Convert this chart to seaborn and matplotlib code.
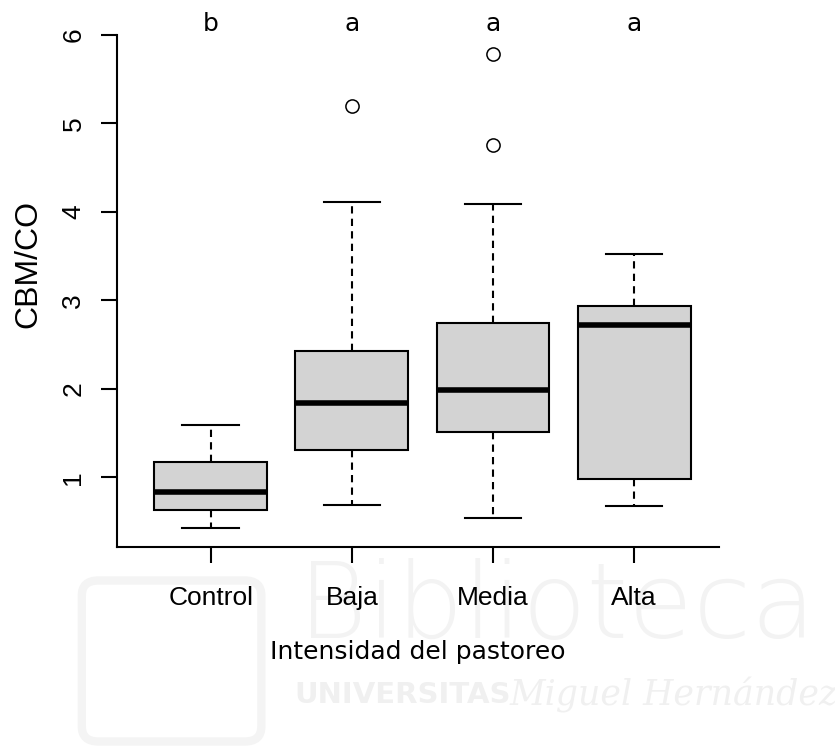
import matplotlib
matplotlib.use('Agg')
import matplotlib.pyplot as plt
from matplotlib.patches import FancyBboxPatch
import pandas as pd
import seaborn as sns

# Grupos (intensidad del pastoreo) y letras de significancia
grupos = ['Control', 'Baja', 'Media', 'Alta']
letras = ['b', 'a', 'a', 'a']

# Observaciones CBM/CO estimadas a partir de la figura
control = [0.430, 0.52, 0.636, 0.75, 0.835, 1.02, 1.174, 1.38, 1.594]
baja = [0.692, 1.05, 1.312, 1.60, 1.839, 2.10, 2.428, 4.112, 5.202]
media = [0.542, 1.10, 1.35, 1.512, 1.70, 1.85, 1.985, 2.30, 2.55, 2.747, 4.094, 4.762, 5.785]
alta = [0.673, 0.85, 0.982, 1.90, 2.725, 2.80, 2.936, 3.20, 3.519]

y_ticks = [1, 2, 3, 4, 5, 6]

# Build long table for seaborn
valores = [control, baja, media, alta]
df = pd.DataFrame({
    'grupo': [g for g, v in zip(grupos, valores) for _ in v],
    'valor': [x for v in valores for x in v],
})

fig = plt.figure(figsize=(8.35, 7.49), dpi=100)

# faint library watermark behind the chart
fig.patches.append(FancyBboxPatch((0.098, 0.01), 0.215, 0.215, boxstyle='round,pad=0,rounding_size=0.02',
                                  transform=fig.transFigure, fill=False, edgecolor='#F4F4F4',
                                  linewidth=6, zorder=-5))
fig.text(0.357, 0.148, 'Biblioteca', fontsize=76, color='#F3F3F3', family='DejaVu Sans',
         fontweight='light', ha='left', va='baseline', zorder=-4)
fig.text(0.352, 0.072, 'UNIVERSITAS', fontsize=21, color='#F0F0F0', family='DejaVu Sans',
         fontweight='bold', ha='left', va='center', zorder=-4)
fig.text(0.61, 0.072, 'Miguel Hernández', fontsize=25, color='#F0F0F0', family='DejaVu Serif',
         style='italic', ha='left', va='center', zorder=-4)

ax = fig.add_axes([0.1398, 0.2701, 0.7213, 0.6832])
ax.patch.set_alpha(0)

sns.boxplot(data=df, x='grupo', y='valor', order=grupos, width=0.8, whis=1.6,
            color='#D3D3D3', saturation=1, linecolor='black', linewidth=1.5,
            medianprops=dict(color='black', linewidth=4),
            whiskerprops=dict(linestyle=(0, (3.5, 2.5))),
            flierprops=dict(marker='o', markerfacecolor='none', markeredgecolor='black',
                            markersize=9.5, markeredgewidth=1.1),
            ax=ax)

ax.set_xlim(-0.666, 3.602)
ax.set_ylim(0.216, 6.0)

for side in ['top', 'right']:
    ax.spines[side].set_visible(False)
for side in ['left', 'bottom']:
    ax.spines[side].set_linewidth(1.5)

ax.set_yticks(y_ticks)
ax.set_yticklabels([str(t) for t in y_ticks], rotation=90, va='center',
                   family='Liberation Sans', fontsize=19)
ax.set_xticks(range(len(grupos)))
ax.set_xticklabels(grupos, family='Liberation Sans', fontsize=19)
ax.tick_params(axis='y', length=11.5, width=1.5, pad=11)
ax.tick_params(axis='x', length=11.5, width=1.5, pad=17)

ax.set_ylabel('CBM/CO', family='Liberation Sans', fontsize=23)
ax.yaxis.set_label_coords(-0.1217, 0.5525)
ax.set_xlabel('Intensidad del pastoreo', family='DejaVu Sans', fontsize=18)
ax.xaxis.set_label_coords(0.5, -0.1823)

# letters from the post-hoc test above each box
for i, letra in enumerate(letras):
    ax.text(i, 6.04, letra, ha='center', va='baseline', family='DejaVu Sans',
            fontsize=18, clip_on=False)

plt.savefig('out.png', dpi=100)
plt.close()
